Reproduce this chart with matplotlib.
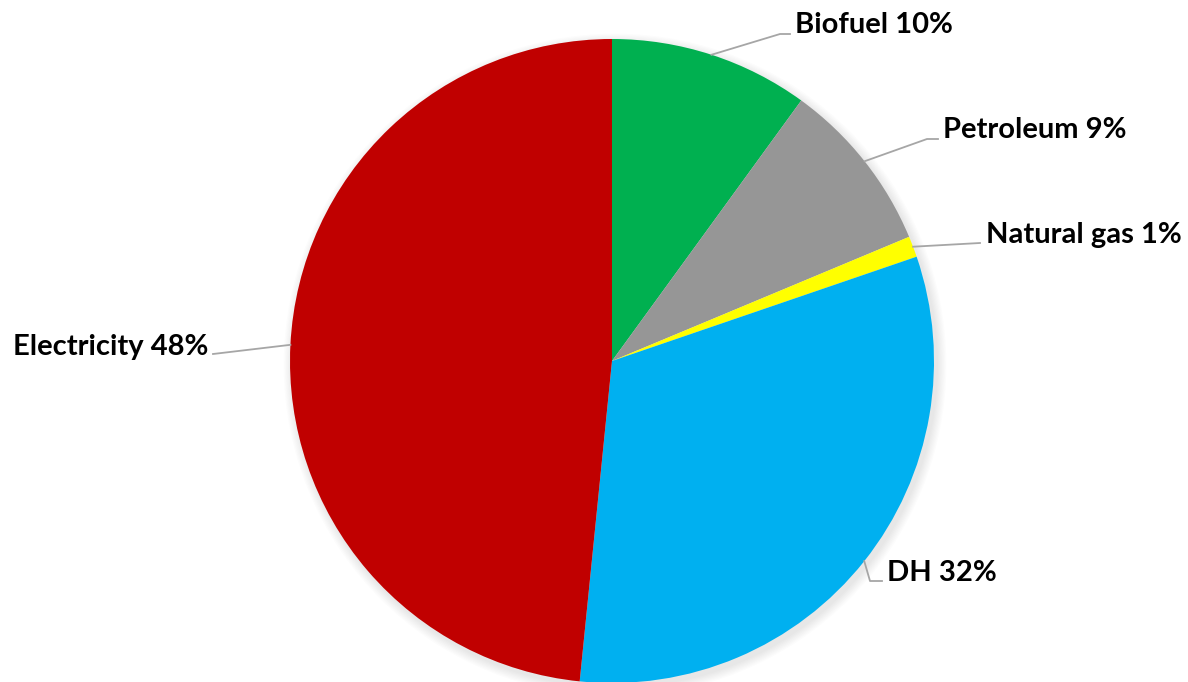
import matplotlib.pyplot as plt
import numpy as np

# data
categories = ["Biofuel", "Petroleum", "Natural gas", "DH", "Electricity"]
shares = [10.0, 8.7, 1.05, 31.85, 48.4]
labels = ["Biofuel 10%", "Petroleum 9%", "Natural gas 1%", "DH 32%", "Electricity 48%"]
colors = ["#00B050", "#969696", "#FFFF00", "#00B0F0", "#C00000"]

W, H = 1188, 682
fig = plt.figure(figsize=(W / 100, H / 100), dpi=100)
ax = fig.add_axes([0, 0, 1, 1])
ax.set_xlim(0, W)
ax.set_ylim(0, H)
ax.set_aspect("equal")
ax.axis("off")

cx, cy, r = 612, H - 361, 322

# soft shadow
for i in range(8):
    ax.add_patch(plt.Circle((cx + 3, cy - 4), r + 1 + i * 1.2, color="black",
                            alpha=0.012, lw=0, zorder=0))

wedges, _ = ax.pie(shares, colors=colors, startangle=90, counterclock=False,
                   center=(cx, cy), radius=r, frame=True,
                   wedgeprops=dict(linewidth=0))
ax.set_xlim(0, W)
ax.set_ylim(0, H)
ax.axis("off")

# label layout: elbow point, end of leader, text anchor, alignment (pixel coords from top)
layout = [
    ((780, 34), (790, 34), (795, 25), "left"),
    ((927, 139), (938, 139), (943, 130), "left"),
    ((980, 243), (980, 243), (986, 235), "left"),
    ((870, 581), (882, 581), (887, 573), "left"),
    ((213, 354), (213, 354), (208, 347), "right"),
]

for w, lab, (elbow, end, txt, ha) in zip(wedges, labels, layout):
    mid = np.deg2rad((w.theta1 + w.theta2) / 2)
    sx, sy = cx + r * np.cos(mid), cy + r * np.sin(mid)
    xs = [sx, elbow[0], end[0]]
    ys = [sy, H - elbow[1], H - end[1]]
    ax.plot(xs, ys, color="#A6A6A6", lw=1.3, zorder=3)
    ax.text(txt[0], H - txt[1], lab, ha=ha, va="center", fontsize=21,
            fontweight="bold", family=["Lato", "DejaVu Sans"], color="black")

fig.savefig("out.png", dpi=100)
